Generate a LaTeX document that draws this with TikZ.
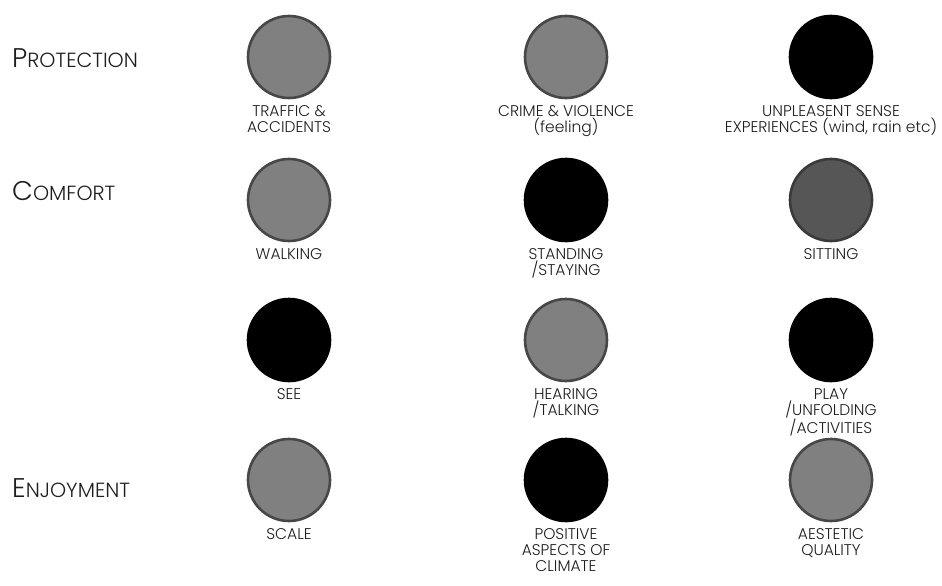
\documentclass[tikz,border=0pt]{standalone}
\usepackage{fontspec}
\setmainfont{Poppins}[UprightFont=* Light]
\usetikzlibrary{positioning}

\definecolor{midgrey}{HTML}{808080}
\definecolor{rimgrey}{HTML}{474747}
\definecolor{darkgrey}{HTML}{565656}
\definecolor{darkrim}{HTML}{3A3A3A}
\definecolor{inkgrey}{HTML}{1E1E1E}

\newcommand{\headcap}[2]{{\fontsize{27}{27}\selectfont #1}{\fontsize{20.5}{21}\selectfont #2}}

\begin{document}
\begin{tikzpicture}[x=1pt, y=-1pt,
    dot/.style={circle, minimum size=82pt, inner sep=0pt, line width=2.6pt},
    grey/.style={dot, fill=midgrey, draw=rimgrey},
    dark/.style={dot, fill=darkgrey, draw=darkrim},
    black/.style={dot, fill=black, draw=black},
    caption/.style={align=center, text=inkgrey, inner sep=0pt,
      font=\fontsize{15.5}{16}\selectfont},
    heading/.style={anchor=base west, text=inkgrey, inner sep=0pt}]
  \useasboundingbox (0,0) rectangle (942,586);

  % headings on the left
  \node[heading] (protection) at (12,67) {\headcap{P}{ROTECTION}};
  \node[heading] (comfort) at (12,200) {\headcap{C}{OMFORT}};
  \node[heading] (enjoyment) at (12,497) {\headcap{E}{NJOYMENT}};

  % the twelve criteria
  \foreach \id/\x/\y/\s/\t in {
      traffic/289/57/grey/{TRAFFIC \&\\ACCIDENTS},
      crime/566/57/grey/{CRIME \& VIOLENCE\\(feeling)},
      sense/831/57/black/{UNPLEASENT SENSE\\EXPERIENCES (wind, rain etc)},
      walking/289/200/grey/{WALKING},
      standing/566/200/black/{STANDING\\/STAYING},
      sitting/831/200/dark/{SITTING},
      see/289/340/black/{SEE},
      hearing/566/340/grey/{HEARING\\/TALKING},
      play/831/340/black/{PLAY\\/UNFOLDING\\/ACTIVITIES},
      scale/289/480/grey/{SCALE},
      climate/566/480/black/{POSITIVE\\ASPECTS OF\\CLIMATE},
      quality/831/480/grey/{AESTETIC\\QUALITY}} {
    \node[\s] (\id) at (\x, \y) {};
    \node[caption, below=6pt of \id] (\id-text) {\t};
  }
\end{tikzpicture}
\end{document}
